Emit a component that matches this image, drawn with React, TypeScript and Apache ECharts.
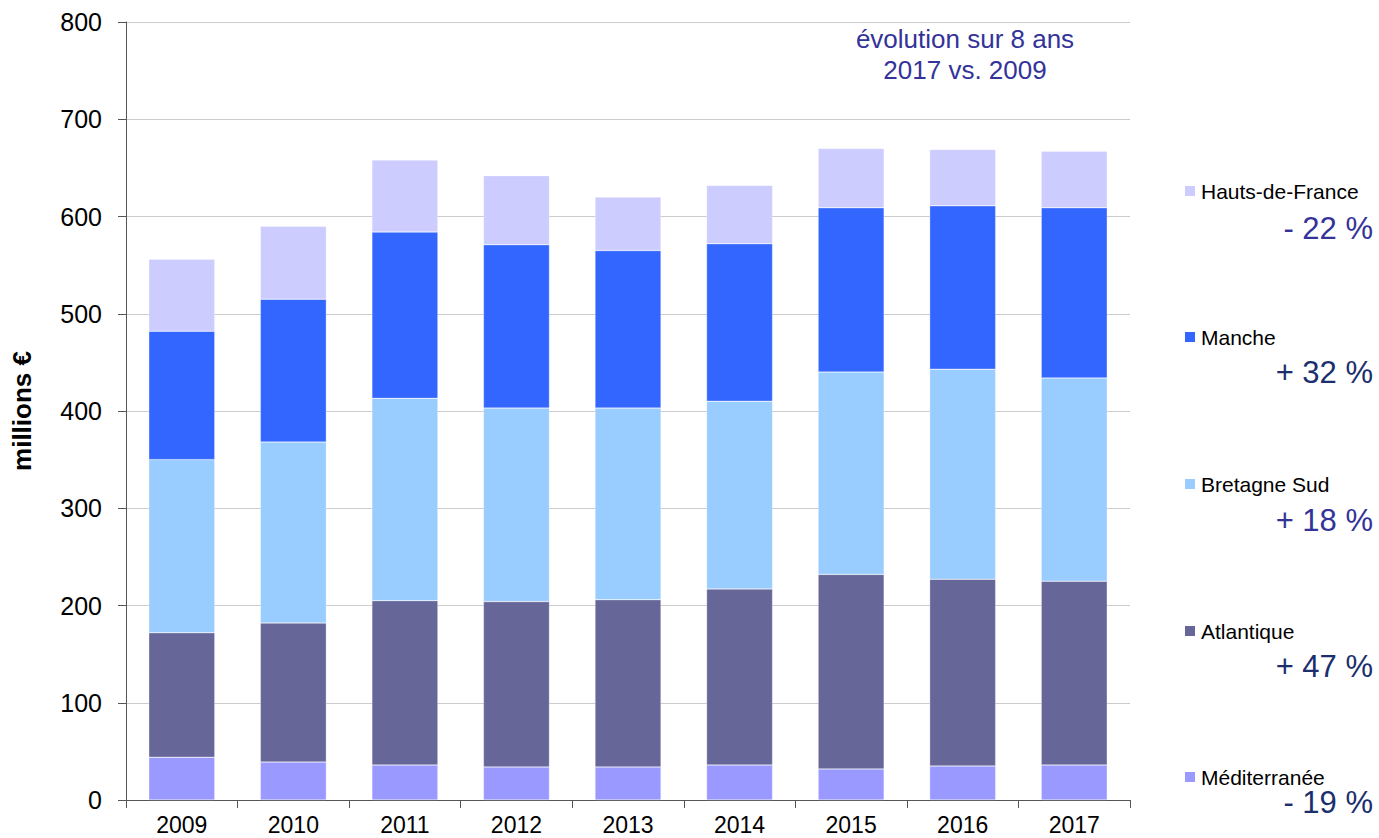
import React, { useEffect, useRef } from "react";
import * as echarts from "echarts";

const years = ["2009", "2010", "2011", "2012", "2013", "2014", "2015", "2016", "2017"];
const mediterranee = [44, 39, 36, 34, 34, 36, 32, 35, 36];
const atlantique = [128, 143, 169, 170, 172, 181, 200, 192, 189];
const bretagneSud = [178, 186, 208, 199, 197, 193, 208, 216, 209];
const manche = [132, 147, 171, 168, 162, 162, 169, 168, 175];
const hautsDeFrance = [74, 75, 74, 71, 55, 60, 61, 58, 58];

const seriesNames = ["Méditerranée", "Atlantique", "Bretagne Sud", "Manche", "Hauts-de-France"];
const seriesColors = ["#9999FF", "#666699", "#99CCFF", "#3366FF", "#CCCCFF"];
const evolutions = ["- 19 %", "+ 47 %", "+ 18 %", "+ 32 %", "- 22 %"];
const evolutionColors = ["#1B2F6E", "#1B2F6E", "#333399", "#1B2F6E", "#333399"];

const FONT = "Liberation Sans";

export default function App() {
  const ref = useRef<HTMLDivElement>(null);
  useEffect(() => {
    if (!ref.current) return;
    const chart = echarts.init(ref.current, undefined, { renderer: "svg" });
    const dataSets = [mediterranee, atlantique, bretagneSud, manche, hautsDeFrance];
    const legendY = [777, 631, 484, 337, 191];
    const pctY = [802, 666, 520, 372, 228];
    chart.setOption({
      animation: false,
      grid: { left: 126, right: 249, top: 22, bottom: 38, containLabel: false, outerBoundsMode: "none" },
      xAxis: {
        type: "category",
        data: years,
        axisLine: { lineStyle: { color: "#555", width: 1 } },
        axisTick: { show: true, length: 8, lineStyle: { color: "#555" } },
        axisLabel: { color: "#000", fontSize: 23, fontFamily: FONT, margin: 13 },
      },
      yAxis: {
        type: "value",
        min: 0,
        max: 800,
        interval: 100,
        name: "millions €",
        nameLocation: "middle",
        nameRotate: 90,
        nameGap: 91,
        nameTextStyle: { color: "#000", fontSize: 26, fontWeight: "bold", fontFamily: FONT },
        axisLine: { show: true, lineStyle: { color: "#555", width: 1 } },
        axisTick: { show: true, length: 8, lineStyle: { color: "#555" } },
        axisLabel: { color: "#000", fontSize: 25, fontFamily: FONT, margin: 24 },
        splitLine: { lineStyle: { color: "#cccccc", width: 1 } },
      },
      series: seriesNames.map((name, i) => ({
        name,
        type: "bar",
        stack: "total",
        barWidth: 66,
        data: dataSets[i],
        itemStyle: { color: seriesColors[i], borderColor: "rgba(255,255,255,0.6)", borderWidth: 0.5 },
      })),
      graphic: [
        {
          type: "text",
          x: 965,
          y: 54,
          style: {
            text: "évolution sur 8 ans\n2017 vs. 2009",
            fill: "#333399",
            fontSize: 26,
            fontFamily: FONT,
            align: "center",
            verticalAlign: "middle",
            lineHeight: 31,
          },
        },
        ...seriesNames.flatMap((name, i) => [
          {
            type: "rect",
            shape: { x: 1185, y: legendY[i] - 5, width: 10, height: 10 },
            style: { fill: seriesColors[i] },
          },
          {
            type: "text",
            x: 1201,
            y: legendY[i],
            style: { text: name, fill: "#000", fontSize: 21, fontFamily: FONT, verticalAlign: "middle", align: "left" },
          },
          {
            type: "text",
            x: 1373,
            y: pctY[i],
            style: {
              text: evolutions[i],
              fill: evolutionColors[i],
              fontSize: 31,
              fontFamily: FONT,
              verticalAlign: "middle",
              align: "right",
            },
          },
        ]),
      ],
    });
    return () => chart.dispose();
  }, []);
  return <div ref={ref} style={{ width: 1379, height: 838, position: "absolute", left: 0, top: 0 }} />;
}
